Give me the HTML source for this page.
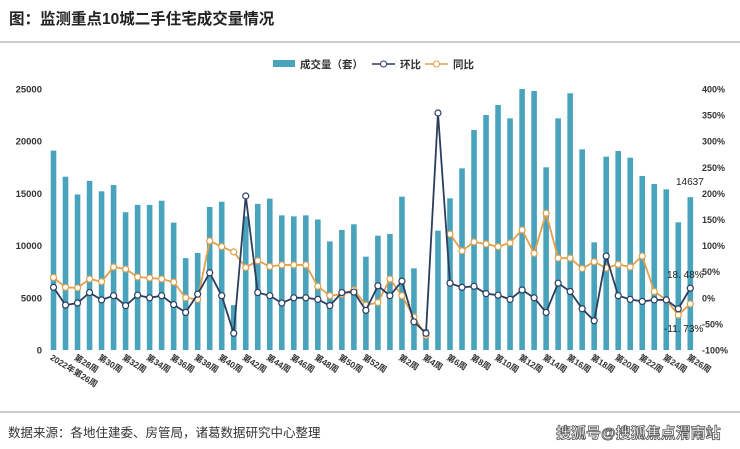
<!DOCTYPE html>
<html><head><meta charset="utf-8">
<style>
body{margin:0;background:#fff;font-family:"Liberation Sans","Noto Sans CJK SC",sans-serif;}
#wrap{position:relative;width:740px;height:449px;overflow:hidden;background:#fff;}
svg text{font-family:"Liberation Sans","Noto Sans CJK SC",sans-serif;}
</style></head>
<body>
<div id="wrap">
<svg id="chart" width="740" height="449" viewBox="0 0 740 449">
  <text x="9" y="24" font-size="15.5" font-weight="bold" fill="#222">图：监测重点10城二手住宅成交量情况</text>
  <line x1="0" y1="42" x2="740" y2="42" stroke="#999" stroke-width="1"/>
  <line x1="0" y1="412" x2="740" y2="412" stroke="#999" stroke-width="1"/>
  <text x="8" y="437" font-size="12.5" fill="#333">数据来源：各地住建委、房管局，诸葛数据研究中心整理</text>
  <text x="556" y="438" font-size="15" font-weight="bold" fill="#fff" stroke="#555" stroke-width="0.8">搜狐号@搜狐焦点渭南站</text>
  <g>
    <rect x="273" y="60" width="22" height="7" fill="#4aa3bc"/>
    <text x="300" y="68" font-size="10.5" font-weight="bold" fill="#333">成交量（套）</text>
    <line x1="372" y1="64" x2="395" y2="64" stroke="#2c3d5e" stroke-width="1.5"/>
    <circle cx="383.5" cy="64" r="3" fill="#fff" stroke="#2c3d5e"/>
    <text x="400" y="68" font-size="10.5" font-weight="bold" fill="#333">环比</text>
    <line x1="425" y1="64" x2="448" y2="64" stroke="#e0a04c" stroke-width="1.5"/>
    <circle cx="436.5" cy="64" r="3" fill="#fff" stroke="#e0a04c"/>
    <text x="453" y="68" font-size="10.5" font-weight="bold" fill="#333">同比</text>
  </g>
  <g id="plot"></g>
</svg>
</div>
<script>
const volumes = [19100,16600,14900,16200,15200,15800,13200,13900,13900,14300,12200,8800,9300,13700,14200,4300,12800,14000,14500,12900,12800,12900,12500,10400,11500,12040,8940,10950,11110,14690,7820,2000,11430,14530,17400,21070,22510,23470,22190,25000,24810,17500,22190,24590,19220,10310,18520,19060,18420,16670,15900,15390,12230,14637];
const momPct = [20,-14,-10,10,-4,4,-15,5,0,4,-13,-28,7,48,4,-68,195,10,4,-10,0,0,-3,-15,10,11,-24,23,4,32,-46,-68,354,28,20,22,8,5,-3,15,0,-28,28,12,-21,-44,80,4,-3,-7,-4,-4,-21,18.48];
const yoyPct = [39,20,19,36,31,59,55,40,38,36,30,0,-3,109,98,88,58,71,60,63,63,63,22,4,7,15,-14,-9,36,4,-37,-72,null,122,90,107,103,98,105,130,85,162,76,76,56,69,57,64,59,80,12,-4,-33,-11.73];
const weekLabels = ["2022年第26周","","第28周","","第30周","","第32周","","第34周","","第36周","","第38周","","第40周","","第42周","","第44周","","第46周","","第48周","","第50周","","第52周","","","第2周","","第4周","","第6周","","第8周","","第10周","","第12周","","第14周","","第16周","","第18周","","第20周","","第22周","","第24周","","第26周"];
const leftTicks = [0,5000,10000,15000,20000,25000];
const rightTicks = [-100,-50,0,50,100,150,200,250,300,350,400];

const NS="http://www.w3.org/2000/svg";
const plot=document.getElementById('plot');
const x0=53.5,x1=690.3,yB=350,yT=89;
const n=volumes.length;
const xPos=i=>x0+(x1-x0)*i/(n-1);
const yL=v=>yB-(v/25000)*(yB-yT);
const yR=p=>yB-((p+100)/500)*(yB-yT);
function mk(tag,attrs){const e=document.createElementNS(NS,tag);for(const k in attrs)e.setAttribute(k,attrs[k]);plot.appendChild(e);return e;}

leftTicks.forEach(t=>{
  const e=mk('text',{x:42,y:yL(t)+3.5,'font-size':9.5,'font-weight':'bold','text-anchor':'end',fill:'#333'});
  e.textContent=t;
  
  
});
rightTicks.forEach(t=>{
  const e=mk('text',{x:702,y:yR(t)+3.5,'font-size':9,'font-weight':'bold',fill:'#333'});
  e.textContent=t+'%';
  
  
});
volumes.forEach((v,i)=>{
  const e=mk('rect',{x:xPos(i)-2.8,y:yL(v),width:5.6,height:yB-yL(v),fill:'#4aa3bc'});
  
  
});
weekLabels.forEach((l,i)=>{
  if(!l)return;
  const x=xPos(i)-4,y=yB+9;
  const e=mk('text',{x:x,y:y,'font-size':8.5,'font-weight':'bold',fill:'#333',transform:`rotate(32 ${x} ${y})`});
  e.textContent=l;
  
  
});
function series(arr,color,name){
  let segs=[],cur=[];
  arr.forEach((p,i)=>{if(p===null){if(cur.length)segs.push(cur);cur=[];}else cur.push([xPos(i),yR(p)]);});
  if(cur.length)segs.push(cur);
  segs.forEach(s=>{
    const e=mk('polyline',{points:s.map(q=>q.join(',')).join(' '),fill:'none',stroke:color,'stroke-width':1.8});
    
    
  });
  arr.forEach((p,i)=>{
    if(p===null)return;
    const e=mk('circle',{cx:xPos(i),cy:yR(p),r:3,fill:'#fff',stroke:color,'stroke-width':1.2});
    
    
  });
}
series(yoyPct,'#e0a04c','yoy');
series(momPct,'#2c3d5e','mom');
const lastV=volumes[n-1];
let a=mk('text',{x:676,y:yL(lastV)-12,'font-size':10,fill:'#222'});
a.textContent=lastV;


a=mk('text',{x:667,y:yR(momPct[n-1])-10,'font-size':10,fill:'#222'});
a.textContent='18. 48%';


a=mk('text',{x:664,y:yR(yoyPct[n-1])+28,'font-size':10,fill:'#222'});
a.textContent='-11. 73%';


</script>
</body></html>
